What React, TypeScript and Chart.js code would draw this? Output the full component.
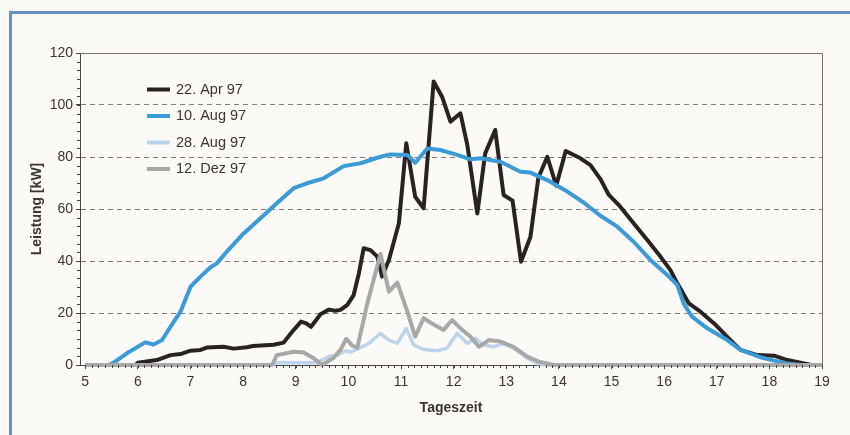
import React, { useEffect, useRef } from "react";
import { Chart, registerables } from "chart.js";

Chart.register(...registerables);

// Hour-of-day tick labels on the x axis
const hourTicks = [5, 6, 7, 8, 9, 10, 11, 12, 13, 14, 15, 16, 17, 18, 19];
const powerTicks = [0, 20, 40, 60, 80, 100, 120];

const seriesNames = ["22. Apr 97", "10. Aug 97", "28. Aug 97", "12. Dez 97"];

// 22. Apr 97 — time of day (h) and power (kW)
const aprTimes = [
  5.0, 5.95, 6.0, 6.36, 6.62, 6.81, 7.0, 7.19, 7.31, 7.63, 7.82, 8.07, 8.19, 8.58, 8.77, 8.92,
  9.1, 9.2, 9.29, 9.47, 9.63, 9.75, 9.85, 9.98, 10.1, 10.2, 10.29, 10.42, 10.55, 10.64, 10.77,
  10.96, 11.1, 11.27, 11.43, 11.62, 11.78, 11.94, 12.13, 12.26, 12.45, 12.6, 12.79, 12.95, 13.12,
  13.28, 13.46, 13.61, 13.78, 13.95, 14.13, 14.41, 14.6, 14.79, 14.95, 15.14, 15.42, 15.68, 15.93,
  16.12, 16.25, 16.47, 16.69, 16.95, 17.26, 17.45, 17.77, 18.09, 18.34, 18.66, 18.8, 19.0,
];
const aprKW = [
  0, 0, 0.9, 1.9, 3.8, 4.2, 5.5, 5.8, 6.7, 7.0, 6.3, 6.8, 7.3, 7.8, 8.6, 12.5,
  16.7, 16.0, 14.7, 19.5, 21.3, 20.9, 21.2, 23.1, 26.9, 35.3, 44.9, 44.2, 41.7, 34.0, 40.4,
  54.5, 85.3, 64.7, 60.3, 109.0, 103.2, 93.6, 96.8, 84.6, 58.3, 81.4, 90.4, 65.4, 63.2,
  39.7, 49.3, 72.0, 80.1, 69.0, 82.3, 79.5, 76.9, 71.5, 65.4, 61.5, 54.5, 48.1, 41.7,
  36.5, 31.4, 23.7, 20.5, 16.0, 9.6, 5.8, 3.8, 3.6, 1.9, 0.6, 0, 0,
];

// 10. Aug 97
const aug10Times = [
  5.0, 5.45, 5.54, 5.79, 6.14, 6.3, 6.46, 6.62, 6.81, 7.0, 7.19, 7.38, 7.5, 7.69, 8.01, 8.33,
  8.64, 8.96, 9.21, 9.53, 9.91, 10.23, 10.61, 10.8, 11.12, 11.27, 11.5, 11.75, 12.07, 12.32,
  12.51, 12.89, 13.27, 13.46, 13.81, 14.16, 14.47, 14.79, 15.11, 15.42, 15.74, 16.06, 16.25,
  16.37, 16.53, 16.82, 17.2, 17.45, 17.83, 18.09, 18.34, 18.59, 19.0,
];
const aug10KW = [
  0, 0, 0.9, 4.5, 8.7, 7.9, 9.6, 14.7, 20.5, 30.1, 34.0, 37.6, 39.1, 43.6, 50.6, 56.4,
  62.2, 68.0, 69.9, 71.8, 76.5, 77.6, 80.1, 81.0, 80.8, 77.8, 83.3, 82.7, 80.8, 79.1,
  79.5, 78.2, 74.3, 74.0, 70.8, 66.7, 62.5, 57.4, 53.2, 47.4, 40.4, 34.6, 30.8,
  23.7, 18.6, 14.1, 9.6, 5.8, 3.0, 1.7, 0.6, 0, 0,
];

// 28. Aug 97
const aug28Times = [
  5.0, 8.55, 8.65, 9.4, 9.55, 9.66, 9.79, 9.95, 10.05, 10.2, 10.39, 10.61, 10.77, 10.93, 11.1,
  11.24, 11.43, 11.69, 11.87, 12.07, 12.26, 12.41, 12.57, 12.76, 12.95, 13.14, 13.4, 13.59,
  13.7, 19.0,
];
const aug28KW = [
  0, 0, 0.9, 0.9, 2.5, 3.5, 3.8, 5.5, 5.0, 6.4, 8.3, 12.2, 9.6, 8.3, 14.1,
  7.7, 6.0, 5.5, 6.4, 12.2, 8.3, 10.3, 7.7, 7.0, 8.3, 6.4, 2.6, 0.6,
  0, 0,
];

// 12. Dez 97
const decTimes = [
  5.0, 8.55, 8.64, 8.96, 9.15, 9.34, 9.5, 9.72, 9.85, 9.96, 10.07, 10.17, 10.36, 10.61, 10.77,
  10.93, 11.12, 11.27, 11.43, 11.62, 11.81, 11.97, 12.16, 12.32, 12.48, 12.67, 12.89, 13.14,
  13.4, 13.62, 13.9, 19.0,
];
const decKW = [
  0, 0, 3.8, 5.1, 4.8, 2.6, 0, 2.8, 5.8, 10.1, 7.5, 6.6, 23.7, 42.7, 28.2,
  31.7, 20.5, 10.9, 18.0, 15.6, 13.5, 17.3, 13.5, 10.9, 7.0, 9.6, 9.0, 7.0,
  3.2, 1.3, 0, 0,
];

const seriesColors = ["#2a2222", "#3b9ad8", "#bcd5ec", "#a8a8a8"];
const seriesWidths = [4, 4, 3.5, 4];

const TEXT = "#3a3434";
const AXIS = "#4a4242";
const GRID = "#8c7a7a";
const FONT = "'Liberation Sans', Arial, Helvetica, sans-serif";

const toPoints = (xs: number[], ys: number[]) => xs.map((x, i) => ({ x, y: ys[i] }));

// Plot frame, minor tick marks and the in-plot legend
const decorPlugin = {
  id: "decor",
  afterDraw(chart: any) {
    const { ctx, chartArea: a, scales } = chart;
    const xs = scales.x;
    const ys = scales.y;
    ctx.save();

    ctx.strokeStyle = "#7d6d6d";
    ctx.lineWidth = 1;
    ctx.beginPath();
    ctx.moveTo(a.left, Math.round(a.top) + 0.5);
    ctx.lineTo(Math.round(a.right) + 0.5, Math.round(a.top) + 0.5);
    ctx.lineTo(Math.round(a.right) + 0.5, a.bottom);
    ctx.stroke();

    ctx.strokeStyle = AXIS;
    ctx.beginPath();
    for (let i = 0; i <= 36; i++) {
      const py = Math.round(ys.getPixelForValue((i * 20) / 6)) + 0.5;
      ctx.moveTo(a.left - 3, py);
      ctx.lineTo(a.left, py);
    }
    for (let i = 0; i <= 14 * 8; i++) {
      const px = Math.round(xs.getPixelForValue(5 + i / 8)) + 0.5;
      ctx.moveTo(px, a.bottom);
      ctx.lineTo(px, a.bottom + 3);
    }
    ctx.stroke();

    const rows = [89.5, 116, 142.5, 169];
    ctx.font = `14.5px ${FONT}`;
    ctx.textBaseline = "middle";
    ctx.textAlign = "left";
    seriesNames.forEach((name, i) => {
      ctx.fillStyle = seriesColors[i];
      ctx.fillRect(147, rows[i] - 2, 23, 4);
      ctx.fillStyle = TEXT;
      ctx.fillText(name, 176, rows[i]);
    });

    ctx.restore();
  },
};

export default function App() {
  const canvasRef = useRef<HTMLCanvasElement | null>(null);

  useEffect(() => {
    const canvas = canvasRef.current;
    if (!canvas) return;

    const seriesData = [
      toPoints(aprTimes, aprKW),
      toPoints(aug10Times, aug10KW),
      toPoints(aug28Times, aug28KW),
      toPoints(decTimes, decKW),
    ];

    const chart = new Chart(canvas, {
      type: "line",
      data: {
        datasets: seriesNames.map((name, i) => ({
          label: name,
          data: seriesData[i],
          borderColor: seriesColors[i],
          backgroundColor: seriesColors[i],
          borderWidth: seriesWidths[i],
          pointRadius: 0,
          tension: 0,
          fill: false,
          borderJoinStyle: "round" as const,
          order: 4 - i,
          clip: 6,
        })),
      },
      options: {
        responsive: false,
        devicePixelRatio: 1,
        animation: false,
        events: [],
        layout: { padding: { left: 0, right: 28, top: 53, bottom: 0 } },
        plugins: {
          legend: { display: false },
          tooltip: { enabled: false },
        },
        scales: {
          x: {
            type: "linear",
            min: 4.9,
            max: 19,
            afterBuildTicks: (scale: any) => {
              scale.ticks = hourTicks.map((v) => ({ value: v }));
            },
            afterFit: (scale: any) => {
              scale.height = 70;
            },
            ticks: {
              color: TEXT,
              font: { family: FONT, size: 14 },
              padding: 5,
              maxRotation: 0,
              autoSkip: false,
            },
            grid: {
              drawOnChartArea: false,
              drawTicks: true,
              tickLength: 4,
              tickColor: AXIS,
            },
            border: { color: AXIS, width: 1 },
            title: {
              display: true,
              text: "Tageszeit",
              color: TEXT,
              font: { family: FONT, size: 14, weight: "bold" },
              padding: { top: 0, bottom: 18 },
            },
          },
          y: {
            min: 0,
            max: 120,
            afterBuildTicks: (scale: any) => {
              scale.ticks = powerTicks.map((v) => ({ value: v }));
            },
            afterFit: (scale: any) => {
              scale.width = 80;
            },
            ticks: {
              color: TEXT,
              font: { family: FONT, size: 14 },
              padding: 3,
            },
            grid: {
              color: (ctx: any) =>
                ctx.tick && (ctx.tick.value === 0 || ctx.tick.value === 120) ? "rgba(0,0,0,0)" : GRID,
              lineWidth: 1,
              tickLength: 4,
              tickColor: AXIS,
            },
            border: { color: AXIS, width: 1, dash: [5, 4] },
            title: {
              display: true,
              text: "Leistung [kW]",
              color: TEXT,
              font: { family: FONT, size: 14, weight: "bold" },
              padding: { top: 29, bottom: 0 },
            },
          },
        },
      },
      plugins: [decorPlugin],
    });

    return () => chart.destroy();
  }, []);

  return (
    <div
      style={{
        position: "fixed",
        left: 0,
        top: 0,
        width: 850,
        height: 435,
        overflow: "hidden",
        background: "#fbfaf6",
      }}
    >
      <div
        style={{
          position: "absolute",
          left: 9,
          top: 11,
          width: 900,
          height: 500,
          borderLeft: "3px solid #6a8fc5",
          borderTop: "3px solid #6a8fc5",
        }}
      />
      <canvas
        ref={canvasRef}
        width={850}
        height={435}
        style={{ position: "absolute", left: 0, top: 0, width: 850, height: 435 }}
      />
    </div>
  );
}
